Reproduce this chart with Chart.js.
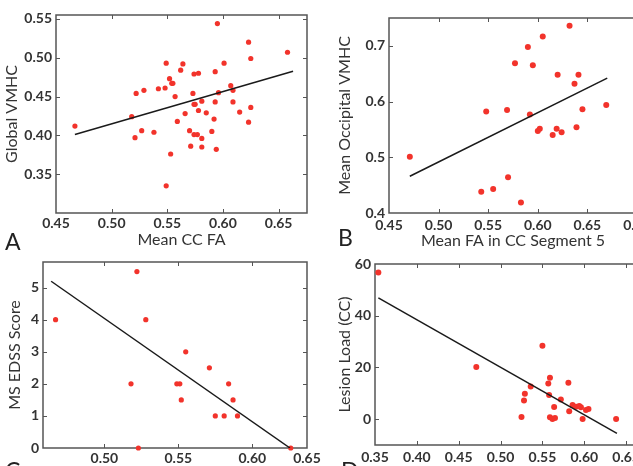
<!DOCTYPE html>
<html>
<head>
<meta charset="utf-8">
<script src="https://cdn.jsdelivr.net/npm/chart.js@4.4.1/dist/chart.umd.min.js"></script>
<style>
    html, body { margin: 0; padding: 0; background: #fff; }
    body { width: 633px; height: 466px; overflow: hidden; position: relative; font-family: Lato, sans-serif; }
    .panel { position: absolute; }
    .letter { position: absolute; font-size: 23px; line-height: 22px; color: #222; }
</style>
</head>
<body>
<div class="panel" style="left:0;top:0;"><canvas id="chartA" width="313" height="250"></canvas></div>
<div class="panel" style="left:313px;top:0;"><canvas id="chartB" width="360" height="250"></canvas></div>
<div class="panel" style="left:313px;top:250px;"><canvas id="chartD" width="360" height="230"></canvas></div>
<div class="panel" style="left:0;top:250px;"><canvas id="chartC" width="325" height="230"></canvas></div>
<div class="letter" style="left:5px;top:230px;">A</div>
<div class="letter" style="left:338px;top:226px;">B</div>
<div class="letter" style="left:5px;top:459px;">C</div>
<div class="letter" style="left:341px;top:459px;">D</div>
<script>
// A - Global VMHC vs mean CC FA
const aX = [0.467, 0.518, 0.522, 0.521, 0.527, 0.529, 0.538, 0.542, 0.548, 0.549, 0.549, 0.552, 0.553, 0.554,
    0.555, 0.557, 0.559, 0.562, 0.564, 0.566, 0.570, 0.571, 0.573, 0.574, 0.574, 0.575, 0.574, 0.577,
    0.578, 0.578, 0.581, 0.581, 0.581, 0.585, 0.590, 0.592, 0.593, 0.593, 0.594, 0.595, 0.596, 0.601,
    0.607, 0.609, 0.609, 0.615, 0.623, 0.623, 0.625, 0.625, 0.658];
const aY = [0.412, 0.424, 0.454, 0.397, 0.406, 0.458, 0.404, 0.460, 0.461, 0.493, 0.335, 0.473, 0.376, 0.467,
    0.467, 0.450, 0.418, 0.484, 0.492, 0.428, 0.406, 0.386, 0.454, 0.479, 0.440, 0.440, 0.401, 0.401,
    0.480, 0.432, 0.396, 0.385, 0.444, 0.429, 0.405, 0.421, 0.482, 0.443, 0.382, 0.544, 0.455, 0.493,
    0.464, 0.458, 0.443, 0.430, 0.520, 0.417, 0.499, 0.436, 0.507];
const aFitX = [0.467, 0.663];
const aFitY = [0.401, 0.4825];
const aXTicks = [0.45, 0.50, 0.55, 0.60, 0.65];
const aXLabels = ['0.45', '0.50', '0.55', '0.60', '0.65'];
const aYTicks = [0.35, 0.40, 0.45, 0.50, 0.55];
const aYLabels = ['0.35', '0.40', '0.45', '0.50', '0.55'];

// B - occipital VMHC vs FA in CC segment 5
const bX = [0.471, 0.543, 0.548, 0.555, 0.569, 0.570, 0.577, 0.583, 0.590, 0.592, 0.595, 0.600,
    0.602, 0.605, 0.615, 0.619, 0.620, 0.624, 0.632, 0.637, 0.639, 0.641, 0.645, 0.669];
const bY = [0.501, 0.438, 0.582, 0.443, 0.585, 0.464, 0.669, 0.419, 0.698, 0.577, 0.665, 0.547,
    0.551, 0.717, 0.540, 0.551, 0.648, 0.545, 0.736, 0.632, 0.554, 0.648, 0.586, 0.594];
const bFitX = [0.471, 0.670];
const bFitY = [0.466, 0.642];
const bXTicks = [0.45, 0.50, 0.55, 0.60, 0.65, 0.70];
const bXLabels = ['0.45', '0.50', '0.55', '0.60', '0.65', '0.70'];
const bYTicks = [0.4, 0.5, 0.6, 0.7];
const bYLabels = ['0.4', '0.5', '0.6', '0.7'];

// C - EDSS vs mean CC FA
const cX = [0.467, 0.518, 0.522, 0.523, 0.528, 0.549, 0.551, 0.552, 0.555, 0.571, 0.575, 0.581,
    0.584, 0.587, 0.590, 0.626];
const cY = [4, 2, 5.5, 0, 4, 2, 2, 1.5, 3, 2.5, 1, 1, 2, 1.5, 1, 0];
const cFitX = [0.464, 0.6255];
const cFitY = [5.2, 0];
// the last label of the figure sits on the right edge of the box
const cXTicks = [0.50, 0.55, 0.60, 0.637];
const cXLabels = ['0.50', '0.55', '0.60', '0.65'];
const cYTicks = [0, 1, 2, 3, 4, 5];
const cYLabels = ['0', '1', '2', '3', '4', '5'];

// D - lesion load vs mean CC FA
const dX = [0.354, 0.471, 0.525, 0.528, 0.529, 0.536, 0.550, 0.557, 0.558, 0.559, 0.559, 0.562,
    0.564, 0.565, 0.572, 0.581, 0.582, 0.586, 0.590, 0.594, 0.596, 0.598, 0.602, 0.605, 0.638];
const dY = [56.7, 20.2, 0.8, 7.2, 9.8, 12.6, 28.4, 13.8, 9.3, 16, 0.7, 0.1,
    4.7, 0.4, 7.6, 14.1, 3.1, 5.5, 4.8, 5.1, 4.6, 0.1, 3.5, 3.9, 0.1];
const dFitX = [0.354, 0.639];
const dFitY = [46.9, -5.5];
const dXTicks = [0.35, 0.40, 0.45, 0.50, 0.55, 0.60, 0.65, 0.70];
const dXLabels = ['0.35', '0.40', '0.45', '0.50', '0.55', '0.60', '0.65', '0.70'];
const dYTicks = [0, 20, 40, 60];
const dYLabels = ['0', '20', '40', '60'];

const RED = '#f2332b';
const AXIS = '#555555';
const TEXT = '#333333';
const FONT = 'Lato, sans-serif';

const toPoints = (xs, ys) => xs.map((x, i) => ({ x, y: ys[i] }));

// box + inward tick marks like the matlab figure
const boxPlugin = {
    id: 'box',
    beforeDatasetsDraw(chart) {
        const { ctx, chartArea: a, scales } = chart;
        ctx.save();
        ctx.strokeStyle = AXIS;
        ctx.lineWidth = 1.5;
        ctx.strokeRect(a.left, a.top, a.right - a.left, a.bottom - a.top);
        ctx.lineWidth = 1;
        ctx.beginPath();
        scales.x.ticks.forEach(t => {
            const px = Math.round(scales.x.getPixelForValue(t.value)) + 0.5;
            if (px <= a.left + 1 || px >= a.right - 1) return;
            ctx.moveTo(px, a.bottom); ctx.lineTo(px, a.bottom - 4);
            ctx.moveTo(px, a.top); ctx.lineTo(px, a.top + 4);
        });
        scales.y.ticks.forEach(t => {
            const py = Math.round(scales.y.getPixelForValue(t.value)) + 0.5;
            if (py <= a.top + 1 || py >= a.bottom - 1) return;
            ctx.moveTo(a.left, py); ctx.lineTo(a.left + 4, py);
            ctx.moveTo(a.right, py); ctx.lineTo(a.right - 4, py);
        });
        ctx.stroke();
        ctx.restore();
    }
};

function makePanel(id, o) {
    return new Chart(document.getElementById(id), {
        type: 'scatter',
        data: {
            datasets: [{
                data: toPoints(o.xs, o.ys),
                backgroundColor: RED,
                borderWidth: 0,
                pointRadius: o.r,
                pointHoverRadius: o.r,
                clip: false,
                order: 2
            }, {
                type: 'line',
                data: toPoints(o.fitX, o.fitY),
                borderColor: '#1a1a1a',
                borderWidth: 1.5,
                pointRadius: 0,
                fill: false,
                order: 1
            }]
        },
        options: {
            responsive: false,
            animation: false,
            devicePixelRatio: 1,
            layout: { padding: { left: 0, top: o.padTop, right: o.padRight, bottom: 0 } },
            plugins: { legend: { display: false }, tooltip: { enabled: false } },
            scales: {
                x: {
                    type: 'linear',
                    min: o.xMin, max: o.xMax,
                    afterBuildTicks: s => { s.ticks = o.xTicks.map(v => ({ value: v })); },
                    // fixed axis size, no extra room for the end labels
                    afterFit: s => { s.height = o.xAxisH; s.paddingLeft = 0; s.paddingRight = 0; },
                    ticks: {
                        callback: (v, i) => o.xLabels[i],
                        font: { family: FONT, size: 14, weight: 'bold' },
                        color: TEXT, padding: o.xTickPad, maxRotation: 0, autoSkip: false
                    },
                    grid: { display: false, drawTicks: false },
                    border: { display: false },
                    title: {
                        display: !!o.xTitle, text: o.xTitle,
                        font: { family: FONT, size: 16 }, color: TEXT,
                        padding: { top: 0, bottom: o.xTitlePad }
                    }
                },
                y: {
                    type: 'linear',
                    min: o.yMin, max: o.yMax,
                    afterBuildTicks: s => { s.ticks = o.yTicks.map(v => ({ value: v })); },
                    afterFit: s => { s.width = o.yAxisW; s.paddingTop = 0; s.paddingBottom = 0; },
                    ticks: {
                        callback: (v, i) => o.yLabels[i],
                        font: { family: FONT, size: 14, weight: 'bold' },
                        color: TEXT, padding: 4, autoSkip: false
                    },
                    grid: { display: false, drawTicks: false },
                    border: { display: false },
                    title: {
                        display: true, text: o.yTitle,
                        font: { family: FONT, size: 16 }, color: TEXT,
                        padding: { top: o.yTitlePad, bottom: 0 }
                    }
                }
            }
        },
        plugins: [boxPlugin]
    });
}

makePanel('chartA', {
    xs: aX, ys: aY, fitX: aFitX, fitY: aFitY, r: 2.6,
    xMin: 0.45, xMax: 0.6755, yMin: 0.30, yMax: 0.555,
    xTicks: aXTicks, xLabels: aXLabels, yTicks: aYTicks, yLabels: aYLabels,
    xTitle: 'Mean CC FA', yTitle: 'Global VMHC',
    padTop: 15, padRight: 6, xAxisH: 37, yAxisW: 56,
    xTickPad: 2, xTitlePad: 1, yTitlePad: 2
});

makePanel('chartB', {
    xs: bX, ys: bY, fitX: bFitX, fitY: bFitY, r: 3,
    xMin: 0.45, xMax: 0.70, yMin: 0.4, yMax: 0.75,
    xTicks: bXTicks, xLabels: bXLabels, yTicks: bYTicks, yLabels: bYLabels,
    xTitle: 'Mean FA in CC Segment 5', yTitle: 'Mean Occipital VMHC',
    padTop: 18, padRight: 36, xAxisH: 37, yAxisW: 76,
    xTickPad: 4, xTitlePad: 0, yTitlePad: 22
});

makePanel('chartC', {
    xs: cX, ys: cY, fitX: cFitX, fitY: cFitY, r: 2.6,
    xMin: 0.4585, xMax: 0.637, yMin: 0, yMax: 5.8,
    xTicks: cXTicks, xLabels: cXLabels, yTicks: cYTicks, yLabels: cYLabels,
    xTitle: '', yTitle: 'MS EDSS Score',
    padTop: 12, padRight: 18, xAxisH: 32, yAxisW: 43,
    xTickPad: 2, xTitlePad: 0, yTitlePad: 5
});

makePanel('chartD', {
    xs: dX, ys: dY, fitX: dFitX, fitY: dFitY, r: 3,
    xMin: 0.35, xMax: 0.70, yMin: -10, yMax: 60,
    xTicks: dXTicks, xLabels: dXLabels, yTicks: dYTicks, yLabels: dYLabels,
    xTitle: '', yTitle: 'Lesion Load (CC)',
    padTop: 14, padRight: 5, xAxisH: 35, yAxisW: 62,
    xTickPad: 4, xTitlePad: 0, yTitlePad: 22
});
</script>
</body>
</html>
